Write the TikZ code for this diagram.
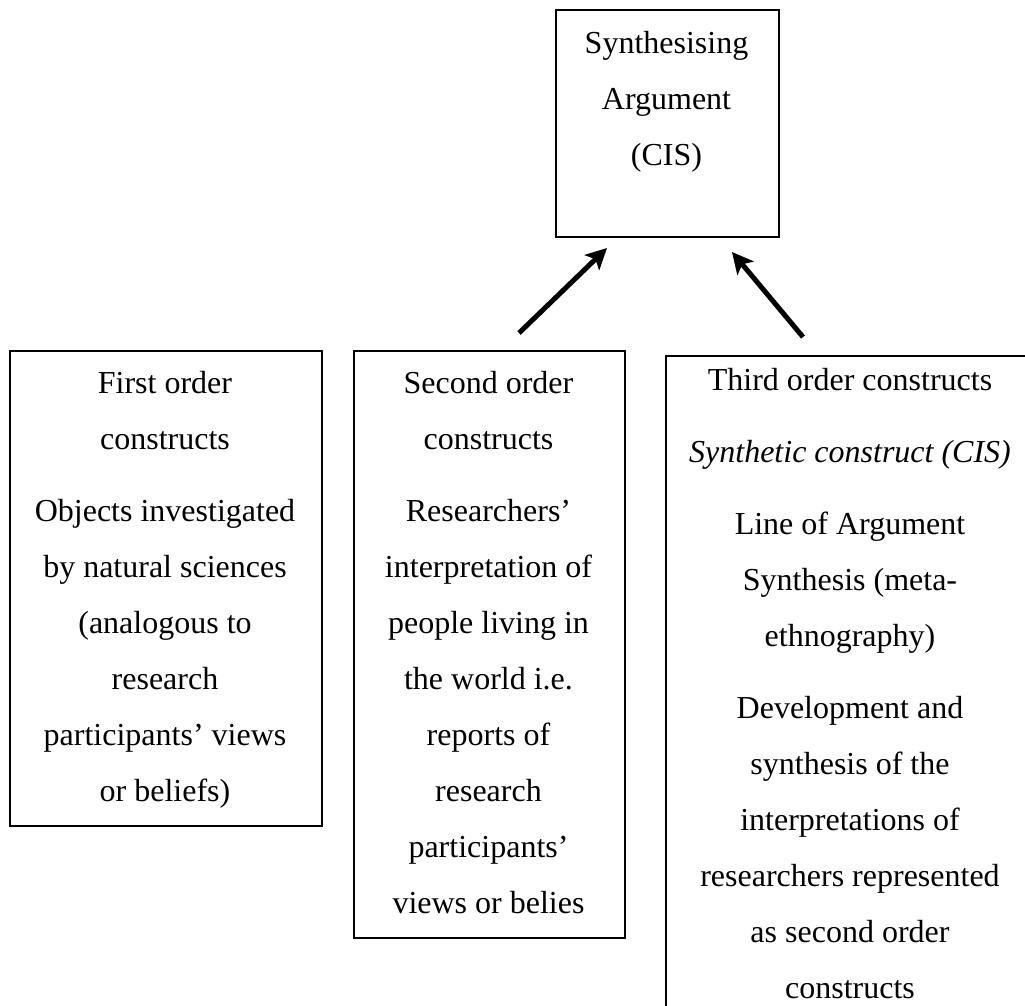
\documentclass[tikz,border=0pt]{standalone}
\usepackage{fontspec}
\setmainfont{Liberation Serif}
\usetikzlibrary{arrows.meta}
\begin{document}
\begin{tikzpicture}[x=1pt,y=-1pt,
  box/.style={draw=black, line width=1.5pt, inner sep=0pt, anchor=north west},
  txt/.style={inner sep=0pt, anchor=north, align=center,
              font=\fontsize{32}{56}\selectfont},
  arr/.style={line width=5pt, -{Stealth[length=21pt,width=21pt,inset=5pt]}}]
\useasboundingbox (0,0) rectangle (1025,1005);
\begin{scope}
\clip (0,0) rectangle (1025,1005);
% boxes
\node[box, minimum width=223pt, minimum height=227pt] (top) at (555,9) {};
\node[box, minimum width=312pt, minimum height=475pt] (first) at (9,350) {};
\node[box, minimum width=271pt, minimum height=587pt] (second) at (353,350) {};
\node[box, minimum width=380pt, minimum height=700pt] (third) at (665,355) {};
% texts
\node[txt] (toptxt) at (666.5,14) {\strut Synthesising\\Argument\\(CIS)};
\node[txt] (firsttxt) at (165,354) {\strut First order\\constructs\\[16pt]
  Objects investigated\\by natural sciences\\(analogous to\\research\\
  participants’ views\\or beliefs)};
\node[txt] (secondtxt) at (488.5,354) {\strut Second order\\constructs\\[16pt]
  Researchers’\\interpretation of\\people living in\\the world i.e.\\
  reports of\\research\\participants’\\views or belies};
\node[txt] (thirdtxt) at (850,351) {\strut Third order constructs\\[16pt]
  \itshape Synthetic construct (CIS)\\[16pt]
  Line of Argument\\Synthesis (meta-\\ethnography)\\[16pt]
  Development and\\synthesis of the\\interpretations of\\
  researchers represented\\as second order\\constructs};
% arrows towards the synthesising argument
\coordinate (p1) at (519,333);
\coordinate (q1) at (607,248);
\coordinate (p2) at (803,337);
\coordinate (q2) at (732,252);
\draw[arr] (p1) -- (q1);
\draw[arr] (p2) -- (q2);
\end{scope}
\end{tikzpicture}
\end{document}
